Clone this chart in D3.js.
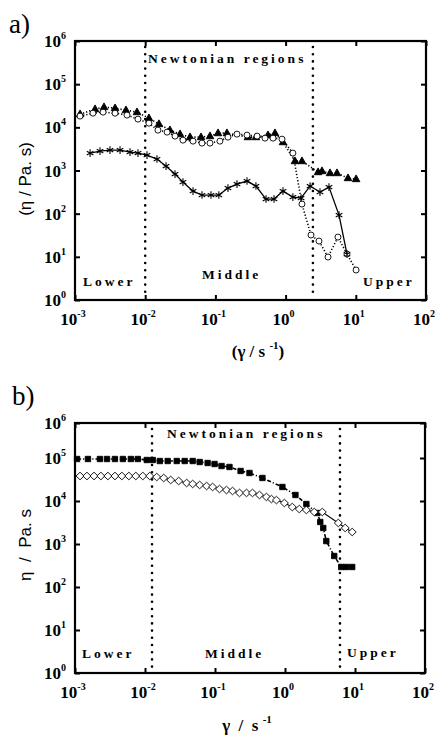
<!DOCTYPE html>
<html>
<head>
<meta charset="utf-8">
<script src="https://cdn.jsdelivr.net/npm/d3@7"></script>
<style>
body { margin: 0; background: #fff; }
text { font-family: "Liberation Serif", "Times New Roman", serif; fill: #000; }
</style>
</head>
<body>
<svg id="chart" width="440" height="741"></svg>
<script>
const xTicks = [1e-3, 1e-2, 1e-1, 1, 10, 100]
const yTicks = [1, 10, 100, 1e3, 1e4, 1e5, 1e6]

// panel a) -- filled triangles
const aTriX = [1.18e-3, 1.93e-3, 2.59e-3, 3.72e-3, 5.32e-3, 7.64e-3, 0.0113, 0.0157, 0.0225, 0.0313, 0.0435, 0.0624, 0.0838, 0.109, 0.146, 0.291, 0.378, 0.561, 0.706, 0.918, 1.36, 1.71, 2.90, 3.30, 4.29, 5.40, 7.74, 10.1]
const aTriY = [20200, 26400, 29400, 27800, 25000, 22500, 16300, 11900, 8610, 6960, 5930, 5930, 6260, 7340, 7340, 5930, 5930, 6600, 7340, 4540, 1650, 1650, 918, 968, 871, 871, 667, 632]
// panel a) -- open circles
const aCirX = [1.18e-3, 1.80e-3, 2.51e-3, 3.72e-3, 5.50e-3, 7.89e-3, 0.0113, 0.0152, 0.0205, 0.0266, 0.0345, 0.0480, 0.0644, 0.0838, 0.116, 0.151, 0.203, 0.282, 0.392, 0.509, 0.662, 0.889, 1.27, 1.71, 2.30, 2.99, 4.02, 5.57, 7.49, 10.1]
const aCirY = [18200, 21300, 22500, 21300, 19200, 15500, 12500, 8610, 7740, 6260, 5050, 4790, 4310, 4310, 4790, 5930, 6960, 6600, 6260, 5620, 5620, 5330, 2530, 167, 32.0, 23.2, 9.89, 28.7, 11.6, 4.95]
// panel a) -- asterisks
const aAstX = [1.64e-3, 2.27e-3, 3.15e-3, 4.38e-3, 6.07e-3, 7.89e-3, 0.0106, 0.0147, 0.0198, 0.0266, 0.0345, 0.0480, 0.0644, 0.0865, 0.112, 0.151, 0.203, 0.282, 0.378, 0.526, 0.684, 0.918, 1.27, 1.66, 2.23, 3.09, 4.15, 5.77, 7.49]
const aAstY = [2530, 2810, 2970, 2970, 2670, 2530, 2270, 1840, 1260, 826, 539, 333, 270, 270, 270, 391, 484, 569, 436, 218, 218, 333, 242, 230, 436, 316, 413, 92.8, 11.6]

// panel b) -- filled squares
const bSqX = [1.07e-3, 1.53e-3, 2.27e-3, 2.86e-3, 3.72e-3, 4.83e-3, 6.28e-3, 7.89e-3, 0.0106, 0.0129, 0.0163, 0.0211, 0.0284, 0.0369, 0.0480, 0.0604, 0.0785, 0.0986, 0.124, 0.161, 0.232, 0.311, 0.476, 0.918, 1.41, 2.02, 2.90, 3.19, 3.52, 3.89, 5.05, 6.36, 7.49, 9.12]
const bSqY = [94800, 94800, 94800, 94800, 94800, 94800, 94800, 94800, 89800, 89800, 85100, 85100, 85100, 85100, 85100, 80700, 76500, 72500, 65100, 61800, 49900, 44800, 34300, 21200, 13800, 8510, 5260, 3250, 2360, 1170, 526, 292, 292, 292]
// panel b) -- open diamonds
const bDiaX = [1.18e-3, 1.48e-3, 1.87e-3, 2.34e-3, 2.95e-3, 3.72e-3, 4.67e-3, 5.88e-3, 7.39e-3, 9.30e-3, 0.0117, 0.0147, 0.0185, 0.0233, 0.0303, 0.0394, 0.0480, 0.0604, 0.0759, 0.0924, 0.116, 0.146, 0.178, 0.224, 0.282, 0.343, 0.432, 0.543, 0.640, 0.754, 0.980, 1.27, 1.60, 2.02, 2.62, 3.41, 5.77, 7.25, 9.12]
const bDiaY = [38100, 38100, 38100, 38100, 38100, 38100, 38100, 38100, 38100, 38100, 38100, 36100, 34300, 30800, 29200, 26200, 24900, 23600, 22300, 21200, 19000, 18000, 17100, 15400, 15400, 15400, 13800, 12400, 11100, 10500, 8980, 7240, 6510, 6180, 5550, 5550, 3080, 2360, 1900]

const svg = d3.select("#chart")

const shapes = {
  triangle: "M0,-4.2L3.8,2.6L-3.8,2.6Z",
  circle: "M3,0A3,3 0 1,1 -3,0A3,3 0 1,1 3,0Z",
  asterisk: "M0,-3.8V3.8M-3.3,-1.9L3.3,1.9M-3.3,1.9L3.3,-1.9",
  square: "M-2.7,-2.7H2.7V2.7H-2.7Z",
  diamond: "M0,-3.8L4,0L0,3.8L-4,0Z"
}

function drawPanel(p) {
  const x = d3.scaleLog().domain([1e-3, 100]).range([p.left, p.right])
  // the top decade of the scanned figure b) is drawn a bit shorter, so the range can be piecewise
  const y = d3.scaleLog().domain(p.yDomain).range(p.yRange)
  const g = svg.append("g")

  // dotted region boundaries
  p.bounds.forEach(b => {
    g.append("line")
      .attr("x1", x(b)).attr("x2", x(b))
      .attr("y1", p.top + 6).attr("y2", p.bottom - 5)
      .attr("stroke", "#000").attr("stroke-width", 2.6)
      .attr("stroke-linecap", "round")
      .attr("stroke-dasharray", "0,7.2")
  })

  // series
  p.series.forEach(s => {
    const pts = s.xs.map((v, i) => [v, s.ys[i]])
    g.append("path")
      .attr("d", d3.line().x(d => x(d[0])).y(d => y(d[1]))(pts))
      .attr("fill", "none").attr("stroke", "#000")
      .attr("stroke-width", s.width)
      .attr("stroke-dasharray", s.dash)
    g.append("g").selectAll("path").data(pts).enter().append("path")
      .attr("transform", d => "translate(" + x(d[0]) + "," + y(d[1]) + ")")
      .attr("d", shapes[s.shape])
      .attr("fill", s.fill)
      .attr("stroke", "#000")
      .attr("stroke-width", s.shape == "asterisk" ? 1.1 : 0.9)
  })

  // axes, ticks pointing inward on all four sides
  const fmt = () => ""
  g.append("g").attr("transform", "translate(0," + p.bottom + ")")
    .call(d3.axisBottom(x).tickValues(xTicks).tickSize(-5).tickFormat(fmt))
  g.append("g").attr("transform", "translate(0," + p.top + ")")
    .call(d3.axisTop(x).tickValues(xTicks).tickSize(-5).tickFormat(fmt))
  g.append("g").attr("transform", "translate(" + p.left + ",0)")
    .call(d3.axisLeft(y).tickValues(yTicks).tickSize(-5).tickFormat(fmt))
  g.append("g").attr("transform", "translate(" + p.right + ",0)")
    .call(d3.axisRight(y).tickValues(yTicks).tickSize(-5).tickFormat(fmt))
  g.selectAll(".domain").remove()
  g.selectAll(".tick line").attr("stroke", "#000").attr("stroke-width", 2)

  g.append("rect")
    .attr("x", p.left).attr("y", p.top)
    .attr("width", p.right - p.left).attr("height", p.bottom - p.top)
    .attr("fill", "none").attr("stroke", "#000").attr("stroke-width", 2.2)

  // tick labels: 10 with superscript exponent
  xTicks.forEach(t => {
    const tx = g.append("text")
      .attr("x", x(t) - 2).attr("y", p.bottom + 25)
      .attr("text-anchor", "middle")
      .style("font-size", "17px").style("font-weight", "bold")
    tx.append("tspan").text("10")
    tx.append("tspan").attr("dy", -8).style("font-size", "10px").text(Math.round(Math.log10(t)))
  })
  yTicks.forEach(t => {
    const ty = g.append("text")
      .attr("x", p.left - 9).attr("y", y(t) + 6)
      .attr("text-anchor", "end")
      .style("font-size", "17px").style("font-weight", "bold")
    ty.append("tspan").text("10")
    ty.append("tspan").attr("dy", -8).style("font-size", "10px").text(Math.round(Math.log10(t)))
  })

  // region names
  const spaced = (tx, ty, s, size) => g.append("text")
    .attr("x", tx).attr("y", ty)
    .style("font-size", size + "px").style("font-weight", "bold")
    .style("letter-spacing", "3px")
    .text(s)
  spaced(p.newt[0], p.newt[1], "Newtonian regions", 13.5)
  p.regions.forEach(r => spaced(r[0], r[1], r[2], 13.5))

  // panel letter
  g.append("text").attr("x", p.letter[0]).attr("y", p.letter[1])
    .style("font-size", "27px").text(p.letterText)

  // axis titles
  const xl = g.append("text").attr("x", p.xLab[0]).attr("y", p.xLab[1])
    .attr("text-anchor", "middle").style("font-size", "17px").style("font-weight", "bold")
    .attr("xml:space", "preserve")
  xl.append("tspan").text(p.xText[0])
  xl.append("tspan").attr("dy", -8).style("font-size", "11px").text("-1")
  xl.append("tspan").attr("dy", 8).text(p.xText[1])

  g.append("text")
    .attr("transform", "translate(" + p.yLab[0] + "," + p.yLab[1] + ") rotate(-90)")
    .attr("text-anchor", "middle")
    .style("font-family", "'Liberation Sans', Arial, sans-serif")
    .style("font-size", "17px")
    .attr("xml:space", "preserve")
    .text(p.yText)
}

drawPanel({
  left: 75, right: 426, top: 41, bottom: 300,
  yDomain: [1, 1e6], yRange: [300, 41],
  bounds: [0.0100, 2.45],
  series: [
    { xs: aTriX, ys: aTriY, shape: "triangle", fill: "#000", width: 1.6, dash: "1.2,2" },
    { xs: aCirX, ys: aCirY, shape: "circle", fill: "#fff", width: 1.6, dash: "1.2,2" },
    { xs: aAstX, ys: aAstY, shape: "asterisk", fill: "none", width: 1.3, dash: null }
  ],
  newt: [148, 63],
  regions: [[83, 286, "Lower"], [202, 279, "Middle"], [363, 286, "Upper"]],
  letter: [9, 33], letterText: "a)",
  xLab: [258, 357], xText: ["(\u03b3 / s ", ")"],
  yLab: [31, 179], yText: "(\u03b7 / Pa. s)"
})

drawPanel({
  left: 75, right: 425, top: 423, bottom: 673,
  yDomain: [1, 1e5, 1e6], yRange: [673, 458, 423],
  bounds: [0.0126, 6.1],
  series: [
    { xs: bSqX, ys: bSqY, shape: "square", fill: "#000", width: 1.6, dash: "4,2,1.2,2" },
    { xs: bDiaX, ys: bDiaY, shape: "diamond", fill: "#fff", width: 1.1, dash: null }
  ],
  newt: [167, 438],
  regions: [[82, 658, "Lower"], [205, 658, "Middle"], [347, 657, "Upper"]],
  letter: [12, 405], letterText: "b)",
  xLab: [247, 731], xText: ["\u03b3  /  s ", ""],
  yLab: [31, 545], yText: "\u03b7  /  Pa. s"
})
</script>
</body>
</html>
